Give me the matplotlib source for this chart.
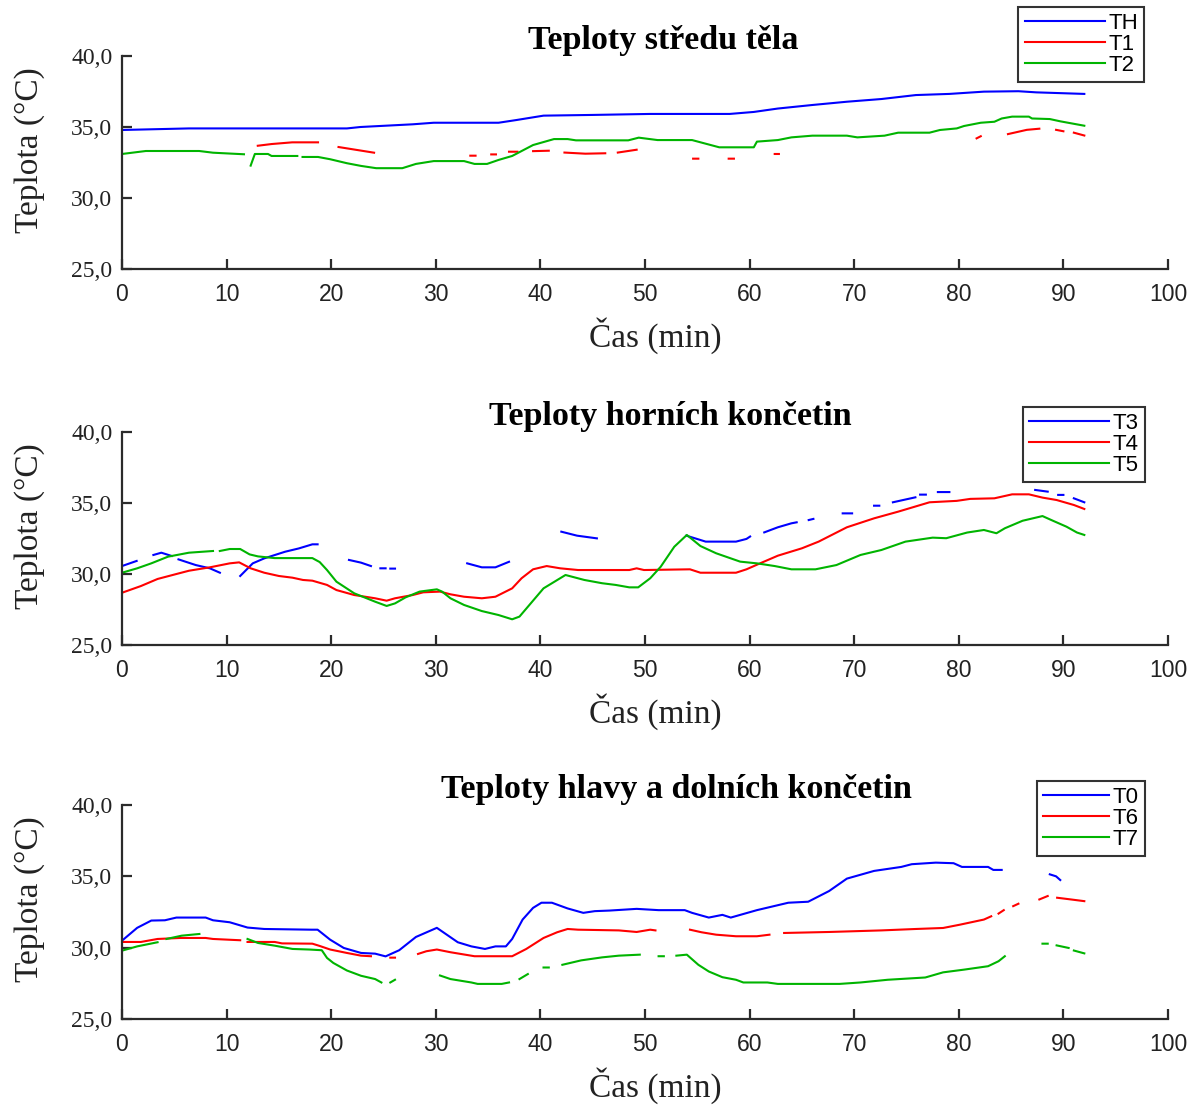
import numpy as np
import matplotlib
matplotlib.use('Agg')
import matplotlib.pyplot as plt
from matplotlib.ticker import FuncFormatter

nan = np.nan

# --- Teploty stredu tela ---
t_TH = [0, 6.4, 21.5, 22.8, 27.8, 29.8, 36.0, 37.7, 40.3, 45, 50.5, 58.1, 60.4, 62.7, 66.0, 69.3,
        72.6, 75.9, 79.1, 82.4, 85.7, 87.4, 92.0]
v_TH = [34.79, 34.9, 34.9, 35.0, 35.19, 35.3, 35.3, 35.49, 35.8, 35.85, 35.92, 35.92, 36.06, 36.3,
        36.55, 36.78, 36.97, 37.25, 37.33, 37.49, 37.52, 37.44, 37.33]
t_T1 = [12.98, 14.3, 16.27, 18.74, nan, 20.7, 24.1, nan, 33.3, 33.8, nan, 35.3, 35.75, nan, 37.0, 37.8,
        nan, 39.3, 40.8, nan, 42.3, 44.3, 46.2, nan, 47.4, 49.2, nan, 54.6, 55.1, nan, 58.0, 58.5, nan,
        62.4, 62.8, nan, 81.7, 82.1, nan, 84.7, 86.5, 87.7, nan, 89.3, 90.0, nan, 91.0, 92.0]
v_T1 = [33.68, 33.8, 33.92, 33.92, nan, 33.59, 33.19, nan, 32.98, 32.98, nan, 33.07, 33.07, nan, 33.26,
        33.26, nan, 33.3, 33.33, nan, 33.2, 33.12, 33.15, nan, 33.2, 33.4, nan, 32.77, 32.77, nan,
        32.77, 32.77, nan, 33.1, 33.1, nan, 34.2, 34.35, nan, 34.5, 34.8, 34.88, nan, 34.8, 34.7, nan,
        34.6, 34.4]
t_T2 = [0, 2.28, 7.38, 8.7, 11.66, nan, 12.3, 12.7, 13.96, 14.3, 16.76, nan, 17.26, 18.74, 19.9, 21.5,
        22.85, 24.3, 26.8, 28.1, 29.8, 32.7, 33.7, 34.9, 36.0, 37.3, 39.3, 41.3, 42.6, 43.4, 48.4, 49.4,
        51.2, 54.5, 57.1, 60.4, 60.7, 62.7, 64.0, 66.0, 69.3, 70.3, 72.9, 74.2, 77.2, 78.2, 79.8, 80.5,
        82.1, 83.4, 84.1, 85.1, 86.7, 87.0, 88.7, 89.7, 92.0]
v_T2 = [33.1, 33.31, 33.31, 33.19, 33.08, nan, 32.28, 33.1, 33.1, 32.96, 32.96, nan, 32.89, 32.89,
        32.73, 32.45, 32.26, 32.1, 32.1, 32.4, 32.6, 32.6, 32.4, 32.4, 32.68, 32.96, 33.73, 34.15, 34.15,
        34.06, 34.06, 34.25, 34.08, 34.08, 33.57, 33.57, 33.97, 34.08, 34.27, 34.39, 34.39, 34.27, 34.39,
        34.6, 34.6, 34.79, 34.9, 35.07, 35.3, 35.37, 35.6, 35.73, 35.73, 35.6, 35.56, 35.4, 35.09]

# --- Teploty hornich koncetin ---
t_T3 = [0, 1.4, nan, 3.0, 3.76, 4.75, nan, 5.4, 7.05, 8.4, 9.36, nan, 11.3, 12.5, 13.6, 15.6, 16.9,
        18.2, 18.7, nan, 21.7, 22.85, 23.8, nan, 24.7, 25.2, nan, 25.65, 26.1, nan, 33.0, 34.4, 35.7,
        37.0, nan, 42.0, 43.5, 45.4, nan, 53.96, 55.8, 58.7, 59.7, 60.05, nan, 61.4, 62.7, 64.0, 64.5,
        nan, 65.65, 66.1, nan, 68.9, 69.8, nan, 71.9, 72.4, nan, 73.7, 75.85, nan, 76.3, 76.85, nan,
        78.0, 79.1, nan, 87.3, 88.5, nan, 89.5, 90.0, nan, 91.0, 92.0]
v_T3 = [30.56, 30.92, nan, 31.34, 31.5, 31.27, nan, 31.03, 30.63, 30.4, 30.09, nan, 29.86, 30.75, 31.1,
        31.57, 31.8, 32.09, 32.09, nan, 30.99, 30.8, 30.56, nan, 30.4, 30.4, nan, 30.38, 30.38, nan,
        30.75, 30.47, 30.47, 30.86, nan, 32.98, 32.7, 32.51, nan, 32.7, 32.28, 32.28, 32.47, 32.64, nan,
        32.93, 33.29, 33.57, 33.64, nan, 33.8, 33.88, nan, 34.27, 34.27, nan, 34.81, 34.81, nan, 35.05,
        35.4, nan, 35.59, 35.59, nan, 35.77, 35.77, nan, 35.92, 35.8, nan, 35.57, 35.57, nan, 35.33,
        35.05]
t_T4 = [0, 1.8, 3.4, 5.1, 6.4, 8.4, 10.3, 11.2, 12.3, 13.6, 15.0, 16.3, 17.3, 18.2, 19.6, 20.5, 22.2,
        24.2, 25.3, 26.1, 27.8, 28.8, 30.4, 31.4, 32.7, 34.4, 35.7, 37.3, 38.2, 39.3, 40.6, 41.9, 43.6,
        48.5, 49.2, 49.9, 54.3, 55.3, 58.7, 59.7, 61.0, 62.7, 65.0, 66.6, 69.3, 71.9, 74.2, 77.2, 79.8,
        81.1, 83.4, 85.1, 86.7, 88.0, 89.35, 91.0, 92.0]
v_T4 = [28.68, 29.15, 29.65, 29.98, 30.23, 30.47, 30.75, 30.82, 30.4, 30.09, 29.86, 29.74, 29.58, 29.53,
        29.23, 28.87, 28.52, 28.29, 28.12, 28.29, 28.52, 28.71, 28.76, 28.57, 28.4, 28.29, 28.4, 28.99,
        29.7, 30.33, 30.56, 30.4, 30.28, 30.28, 30.4, 30.28, 30.33, 30.09, 30.09, 30.33, 30.75, 31.29,
        31.81, 32.28, 33.29, 33.92, 34.39, 35.05, 35.15, 35.29, 35.33, 35.61, 35.61, 35.38, 35.21, 34.86,
        34.58]
t_T5 = [0, 1.45, 2.8, 4.4, 6.4, 8.7, nan, 9.35, 10.3, 11.3, 12.2, 13.0, 14.6, 18.2, 18.9, 19.6, 20.5,
        22.2, 24.2, 25.3, 26.1, 27.1, 28.45, 30.1, 30.6, 31.4, 32.7, 34.4, 36.0, 37.3, 38.0, 40.3, 42.4,
        44.2, 45.9, 47.2, 48.5, 49.35, 50.5, 51.5, 52.8, 54.0, 55.3, 56.8, 59.1, 60.7, 62.4, 64.0, 66.3,
        68.3, 70.6, 72.6, 74.9, 77.5, 78.8, 80.8, 82.4, 83.6, 84.4, 86.1, 88.0, 89.0, 90.3, 91.3, 92.0]
v_T5 = [30.09, 30.4, 30.75, 31.22, 31.5, 31.62, nan, 31.62, 31.76, 31.76, 31.38, 31.24, 31.12, 31.12,
        30.84, 30.28, 29.46, 28.64, 28.05, 27.75, 27.93, 28.35, 28.76, 28.92, 28.76, 28.29, 27.82, 27.39,
        27.11, 26.81, 27.0, 28.99, 29.93, 29.58, 29.35, 29.23, 29.06, 29.06, 29.7, 30.51, 31.92, 32.75,
        31.97, 31.46, 30.87, 30.75, 30.56, 30.33, 30.33, 30.63, 31.34, 31.69, 32.28, 32.56, 32.52, 32.92,
        33.1, 32.87, 33.22, 33.75, 34.08, 33.75, 33.33, 32.92, 32.75]

# --- Teploty hlavy a dolnich koncetin ---
t_T0 = [0, 1.45, 2.8, 4.1, 5.2, 8.0, 8.7, 10.3, 12.0, 13.6, 18.1, 18.7, 19.9, 21.2, 22.85, 24.2, 25.2,
        26.5, 28.1, 30.1, 32.1, 33.4, 34.7, 35.7, 36.7, 37.3, 38.3, 39.3, 40.1, 41.1, 42.6, 44.1, 45.2,
        46.6, 49.2, 51.3, 53.8, 54.5, 56.1, 57.4, 58.2, 60.7, 63.7, 65.6, 67.6, 69.3, 71.9, 74.5, 75.5,
        77.8, 79.5, 80.3, 82.8, 83.3, 84.1, nan, 88.7, 89.3, 89.7]
v_T0 = [30.49, 31.39, 31.9, 31.92, 32.11, 32.11, 31.92, 31.78, 31.41, 31.31, 31.26, 31.26, 30.56, 29.98,
        29.63, 29.58, 29.39, 29.82, 30.75, 31.39, 30.38, 30.09, 29.91, 30.09, 30.09, 30.61, 31.97, 32.79,
        33.15, 33.15, 32.75, 32.44, 32.56, 32.6, 32.72, 32.63, 32.63, 32.44, 32.11, 32.3, 32.11, 32.63,
        33.15, 33.22, 33.97, 34.84, 35.38, 35.66, 35.85, 35.96, 35.92, 35.66, 35.66, 35.45, 35.45, nan,
        35.14, 35.0, 34.74]
t_T6 = [0, 1.8, 3.4, 5.6, 8.0, 8.7, 11.3, nan, 12.0, 14.6, 15.3, 18.2, 18.9, 19.9, 21.5, 22.85, 23.8,
        nan, 25.65, 26.1, nan, 28.3, 29.1, 30.1, 31.4, 33.7, 37.3, 38.65, 40.3, 41.6, 42.6, 43.6, 47.5,
        49.2, 50.5, 51.0, nan, 54.3, 55.4, 56.8, 58.7, 60.7, 61.9, nan, 63.3, 67.6, 72.6, 75.9, 78.5,
        80.1, 82.4, 83.1, nan, 83.8, 84.3, nan, 85.2, 85.7, nan, 87.7, 88.5, nan, 89.4, 90.5, 92.0]
v_T6 = [30.4, 30.4, 30.61, 30.68, 30.68, 30.61, 30.52, nan, 30.4, 30.4, 30.3, 30.28, 30.12, 29.87,
        29.63, 29.44, 29.4, nan, 29.3, 29.3, nan, 29.56, 29.75, 29.87, 29.68, 29.4, 29.4, 29.91, 30.68,
        31.08, 31.31, 31.26, 31.21, 31.1, 31.26, 31.21, nan, 31.26, 31.08, 30.91, 30.8, 30.8, 30.91, nan,
        31.03, 31.1, 31.21, 31.31, 31.38, 31.61, 31.97, 32.2, nan, 32.39, 32.63, nan, 32.91, 33.08, nan,
        33.38, 33.62, nan, 33.5, 33.4, 33.26]
t_T7 = [0, 1.45, 3.4, nan, 4.25, 5.7, 7.4, nan, 12.0, 13.0, 14.6, 16.3, 17.9, 19.1, 19.6, 20.2, 21.5,
        22.85, 24.2, 24.8, nan, 25.65, 26.1, nan, 30.4, 31.4, 33.4, 34.0, 36.3, 37.0, nan, 38.0, 38.8,
        nan, 40.3, 40.8, nan, 42.1, 43.9, 45.9, 47.5, 49.5, nan, 51.3, 51.8, nan, 53.0, 54.0, 55.1, 56.1,
        57.4, 58.7, 59.4, 61.7, 62.7, 68.6, 70.6, 73.2, 76.8, 78.5, 80.5, 82.8, 83.8, 84.4, nan, 88.0,
        88.5, nan, 89.35, 90.5, nan, 91.0, 92.0]
v_T7 = [29.79, 30.09, 30.38, nan, 30.61, 30.84, 30.96, nan, 30.61, 30.33, 30.14, 29.91, 29.87, 29.82,
        29.28, 28.93, 28.4, 28.03, 27.8, 27.56, nan, 27.56, 27.75, nan, 28.05, 27.8, 27.56, 27.46, 27.46,
        27.56, nan, 27.8, 28.15, nan, 28.61, 28.61, nan, 28.8, 29.11, 29.32, 29.44, 29.51, nan, 29.4,
        29.4, nan, 29.44, 29.51, 28.8, 28.33, 27.93, 27.75, 27.56, 27.56, 27.46, 27.46, 27.56, 27.75,
        27.91, 28.27, 28.46, 28.7, 29.05, 29.4, nan, 30.28, 30.28, nan, 30.16, 29.98, nan, 29.8, 29.6]

titles = ['Teploty středu těla', 'Teploty horních končetin', 'Teploty hlavy a dolních končetin']
labels = [['TH', 'T1', 'T2'], ['T3', 'T4', 'T5'], ['T0', 'T6', 'T7']]
series = [[(t_TH, v_TH), (t_T1, v_T1), (t_T2, v_T2)],
          [(t_T3, v_T3), (t_T4, v_T4), (t_T5, v_T5)],
          [(t_T0, v_T0), (t_T6, v_T6), (t_T7, v_T7)]]
colors = ['#0000ff', '#ff0000', '#00b400']

serif = 'Liberation Serif'
sans = 'Liberation Sans'
W, H = 1200, 1105

fig = plt.figure(figsize=(12, 11.05), dpi=100)

# axes boxes in pixels: (top, bottom), legend (top, right), title x
boxes = [(56, 269), (432, 645), (805, 1019)]
leg_pos = [(7, 1144), (407, 1145), (781, 1145)]
handle_len = [3.6, 3.6, 3.0]
title_x = [0.517, 0.524, 0.530]

for k in range(3):
    top, bot = boxes[k]
    ax = fig.add_axes([122 / W, 1 - bot / H, 1046 / W, (bot - top) / H])
    for j in range(3):
        t, v = series[k][j]
        ax.plot(t, v, '-', color=colors[j], linewidth=1.5, label=labels[k][j])
    ax.set_xlim(0, 100)
    ax.set_ylim(25, 40)
    ax.set_xticks(range(0, 101, 10))
    ax.set_yticks([25, 30, 35, 40])
    ax.yaxis.set_major_formatter(FuncFormatter(lambda x, p: ('%.1f' % x).replace('.', ',')))
    ax.spines['top'].set_visible(False)
    ax.spines['right'].set_visible(False)
    for s in ['left', 'bottom']:
        ax.spines[s].set_linewidth(1.6)
        ax.spines[s].set_color('#2b2b2b')
    ax.tick_params(direction='in', length=7, width=1.6, color='#2b2b2b', labelcolor='#222222')
    ax.tick_params(axis='y', pad=7)
    ax.tick_params(axis='x', pad=10)
    for lab in ax.get_yticklabels():
        lab.set_fontfamily(serif)
        lab.set_fontsize(17)
    for lab in ax.get_xticklabels():
        lab.set_fontfamily(sans)
        lab.set_fontsize(16.5)
    ax.set_ylabel('Teplota (°C)', fontfamily=serif, fontsize=24, color='#222222')
    ax.yaxis.set_label_coords(-0.074, 0.56)
    ax.set_xlabel('Čas (min)', fontfamily=serif, fontsize=24, color='#222222')
    ax.xaxis.set_label_coords(0.51, -0.225)
    ax.set_title(titles[k], fontfamily=serif, fontsize=24.5, fontweight='bold', x=title_x[k], pad=5)
    lt, lr = leg_pos[k]
    leg = ax.legend(loc='upper right', bbox_to_anchor=(lr / W, 1 - lt / H),
                    bbox_transform=fig.transFigure, borderaxespad=0, fancybox=False,
                    edgecolor='#333333', framealpha=1, handlelength=handle_len[k], labelspacing=0.0,
                    handletextpad=0.15, borderpad=0.28, prop={'family': sans, 'size': 16})
    leg.get_frame().set_linewidth(1.5)

fig.savefig('out.png', dpi=100)
